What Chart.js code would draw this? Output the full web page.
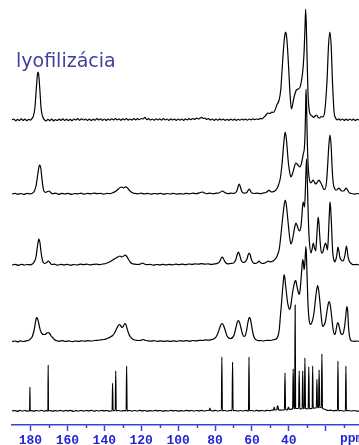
<!DOCTYPE html>
<html>
<head>
<meta charset="utf-8">
<script src="https://cdn.jsdelivr.net/npm/chart.js@4/dist/chart.umd.min.js"></script>
<style>
  html, body { margin: 0; padding: 0; background: #fff; }
  #wrap { width: 359px; height: 445px; }
</style>
</head>
<body>
<div id="wrap"><canvas id="nmr"></canvas></div>
<script>
// 13C CP/MAS spectra, [ppm, intensity] pairs, top trace first
const titleText = "lyofilizácia";

const spectrum1 = [[190,0],[189,1],[188,-0.8],[187,0.7],[186,-0.6],[185,1.1],[184,-0.4],[183,0.9],[182,-0.7],[181,0.6],[180,-0.2],[179.4,1],[178.6,3],[177.6,12],[176.8,32],[176.2,46],[175.9,48],[175.5,45],[174.9,30],[174.2,11],[173.3,3],[172.4,0.2],[171.5,-0.8],[170.5,0.6],[169.5,-0.6],[168.5,1],[167.5,-0.9],[166.5,0.4],[165.5,-0.5],[164.5,0.9],[163.5,-0.3],[162.5,1.2],[161.5,-0.5],[160.5,0.8],[159.5,-0.6],[158.5,0.7],[157.5,-0.7],[156.5,1],[155.5,0],[154.5,1.3],[153.5,-0.2],[152.3,1.2],[151.2,0],[150.2,1],[149.2,-0.4],[148,0.9],[147,-0.5],[146,0.8],[145,-0.2],[144,1.4],[143,0.1],[142,1.1],[141,-0.3],[140,1],[139,-0.4],[138,0.9],[137,-0.1],[136,1.2],[135,0],[134,1.3],[133,0.1],[132,1.1],[131,-0.2],[130,1.2],[129,0.2],[128,1.3],[127,-0.1],[126,1],[125,0],[124,1.4],[123,0.2],[122,1.3],[121,0.3],[120,1.5],[119,1],[118,2.6],[117,0.4],[116,1.3],[115,0],[114,1],[113,-0.2],[112,1.1],[111,0.1],[110,1.2],[109,-0.1],[108,1.3],[107,0.2],[106,1],[105,-0.3],[104,1.1],[103,0],[102,0.8],[101,-0.4],[100,1],[99,-0.1],[98,0.9],[97,-0.3],[96,1.2],[95,0.1],[94,1.3],[93,0.4],[92,1.5],[91,0.6],[90,1.8],[89,1],[88,2],[87.2,2.6],[86.4,1.5],[85.5,2],[84.5,0.5],[83.5,1.3],[82.5,0],[81.5,1],[80.5,-0.3],[79.5,0.9],[78.5,-0.2],[77.5,1.1],[76.5,0],[75.5,0.8],[74.5,-0.4],[73.5,0.7],[72.5,-0.3],[71.5,0.9],[70.5,-0.1],[69.5,0.8],[68.5,-0.4],[67.5,0.6],[66.5,-0.2],[65.5,1],[64.5,0.1],[63.5,0.9],[62.5,-0.2],[61.5,1],[60.5,0.2],[59.5,1.2],[58.5,0.3],[57.5,1],[56.5,0.5],[55.5,1.6],[54.5,1.2],[53.6,2.6],[52.4,5],[51.3,7],[50.2,6.5],[49.2,8],[48.4,7.5],[47.6,9.5],[46.5,15],[45.3,20],[44.4,30],[43.5,55],[42.7,76],[42.1,86],[41.8,88],[41.4,86],[40.8,74],[40,48],[39.3,24],[38.6,11],[37.3,22],[35.9,30],[34.2,32],[33.1,40],[32.3,52],[31.7,70],[31.2,96],[30.9,111],[30.5,92],[30.1,60],[29.6,25],[29,10],[28.2,5],[27.4,4],[26.6,2.5],[25.8,4],[25,5],[24.1,2.5],[23.3,2],[22.5,3.5],[21.7,3],[20.6,8],[19.3,40],[18.5,75],[17.8,88],[17.1,75],[16.3,35],[15.5,8],[14.7,2],[13.8,0.2],[13,1.2],[12,-0.2],[11,1],[10,-0.4],[9,0.9],[8,-0.3],[7,1],[6,-0.2],[5,0.8],[4,-0.5],[3,0.6],[2,0]];

const spectrum2 = [[190,0],[188.4,0.7],[186.8,-0.3],[185.2,0.5],[183.5,-0.4],[181.8,0.6],[180.2,0.1],[179,0.8],[178,2.5],[177,8],[176,20],[175.3,28],[174.9,29],[174.4,26],[173.7,14],[172.9,4],[172,1.5],[171,2.2],[170,3],[169,1.5],[168,0.3],[166.4,0.8],[164.7,-0.3],[163,0.6],[161.3,0],[159.6,0.7],[157.8,-0.4],[156,0.5],[154.3,0.1],[152.6,0.8],[150.8,-0.2],[149,0.6],[147.3,0.2],[145.5,0.9],[143.8,0.3],[142,0.7],[140.3,-0.1],[138.5,0.6],[137,0.4],[135.5,1.2],[134,2.5],[132.5,4.8],[131.4,6.5],[130.5,7],[129.5,6.2],[128.4,7.2],[127.4,6],[126.3,3.5],[125,1.5],[123.5,0.6],[121.8,0.2],[120,0.8],[118.3,0],[116.5,0.6],[114.8,-0.2],[113,0.5],[111.3,0.1],[109.5,0.7],[107.8,-0.3],[106,0.5],[104.3,0],[102.5,0.6],[100.8,-0.2],[99,0.4],[97.3,0],[95.5,0.7],[93.8,0.2],[92,0.9],[90.3,0.4],[88.5,1.1],[87,2],[86,1.3],[84.5,0.4],[82.8,0.9],[81,0.2],[79.2,0.8],[77.5,1.3],[76,3],[74.5,1.2],[73,0.4],[71.3,0.9],[69.6,0.6],[68.2,3],[67.3,8.5],[66.9,10],[66.4,8],[65.5,2.5],[64.3,0.8],[62.8,1.5],[62,3.8],[61.5,5],[61,3.8],[60.2,1.2],[58.8,0.5],[57.2,0.8],[55.5,0.3],[54,1],[52.5,1.5],[51.3,3],[50.8,4],[50.2,3],[49.2,2],[48.2,2.5],[47.6,3],[46.6,5],[45.6,9],[44.6,16],[43.7,30],[42.8,50],[42.3,59],[42,62],[41.6,59],[41.1,50],[40.3,32],[39.5,21],[38.9,17],[38.1,20],[37.2,26],[36.2,31],[35.1,29],[34,27],[33,32],[32.2,40],[31.6,46],[31.2,62],[30.9,88],[30.7,105],[30.4,88],[30.1,60],[29.6,30],[28.9,15],[28.2,11],[27.6,12],[26.9,14],[26.2,12],[25.6,10],[24.9,11],[24.2,13],[23.6,14],[23,12],[22.1,9],[21.2,5],[20.5,4.5],[19.6,12],[19,28],[18.3,50],[17.7,59],[17.1,48],[16.5,24],[15.9,10],[15.3,6],[14.7,4],[14.2,4],[13.5,5],[12.9,6],[12.2,4.5],[11.5,3],[10.4,3],[9.6,4.5],[8.9,6],[8.2,4],[7.6,2],[6.8,0.8],[6,0.5],[4.5,-0.2],[3.2,0.5],[2,0]];

const spectrum3 = [[190,0],[188.3,0.6],[186.6,-0.4],[185,0.7],[183.3,0],[181.6,0.5],[180.2,0.2],[179,1],[178,3],[177,8],[176.2,19],[175.6,25],[175.4,26],[174.9,23],[174.2,12],[173.4,4],[172.4,1.5],[171.2,2.5],[170.3,4],[169.5,2.5],[168.5,0.5],[167,0.8],[165.3,-0.2],[163.5,0.6],[161.8,0.1],[160,0.7],[158.3,-0.3],[156.5,0.5],[154.8,0],[153,0.8],[151.2,0.3],[149.5,0.9],[147.8,0.2],[146,0.6],[144.3,0.9],[142.5,0.4],[140.8,1],[139.2,1.5],[137.8,2.5],[136.3,4],[135,5.5],[133.6,7],[132.4,8.3],[131.5,9],[130.5,8],[129.6,8.8],[128.8,10],[128,9],[127,6],[126,3],[125,1.5],[123.5,0.8],[122,0.5],[120.5,0.9],[119.2,2],[118.3,1],[117,0.3],[115.2,0.7],[113.5,-0.1],[111.7,0.5],[110,0.1],[108.2,0.7],[106.5,0],[104.7,0.6],[103,0.2],[101.2,0.8],[99.5,0.3],[97.8,0.9],[96,0.4],[94.3,1],[92.5,0.6],[90.8,1.2],[89,0.8],[87.3,1.4],[85.5,0.8],[83.8,1.2],[82,0.6],[80.3,1.1],[78.8,1.6],[77.5,3.5],[76.6,7],[76.1,8],[75.5,6.5],[74.5,2.8],[73.2,1.2],[71.5,1.5],[70,2],[68.8,5],[67.9,11],[67.4,13],[66.8,11],[65.9,5],[64.9,2.5],[63.8,3],[62.7,6],[62,10.5],[61.5,12],[61,10.5],[60.2,5],[59.2,2],[58,1.5],[57,2.5],[56.2,4],[55.5,2.5],[54.3,1.5],[53,2],[52,3],[51,4],[50.2,3],[49.3,3.5],[48.2,4.5],[47.2,6.5],[46.6,8],[45.8,12],[45.2,16],[44.3,30],[43.2,50],[42.4,62],[42,65],[41.5,62],[40.8,50],[39.9,33],[39.3,24],[38.9,21],[38.2,24],[37.5,31],[36.7,39],[36.2,42],[35.6,40],[35.1,37],[34.3,34],[33.5,38],[32.9,50],[32.5,60],[32.2,63],[31.8,60],[31.5,58],[31,78],[30.7,96],[30.4,106],[30.1,92],[29.7,62],[29.3,38],[28.9,24],[28.1,12],[27.4,16],[26.8,22],[26.1,17],[25.5,14],[25.1,22],[24.5,40],[24.1,48],[23.7,42],[23.3,30],[22.8,18],[22.3,12],[21.8,12],[21.3,15],[20.6,20],[20.1,22],[19.6,19],[19.1,15],[18.7,24],[18.3,42],[17.9,58],[17.7,63],[17.4,58],[16.9,40],[16.5,22],[16.2,12],[15.6,5],[15.2,3],[14.6,5],[14,10],[13.4,18],[12.9,14],[12.4,8],[11.6,5],[11,4],[10.3,5],[9.7,9],[9.2,15],[8.8,19],[8.4,15],[7.9,8],[7.3,4],[6.5,2],[5.8,0.8],[4.6,0.3],[3.3,0.6],[2,0]];

const spectrum4 = [[190,0],[188.5,0.5],[187,-0.3],[185.4,0.6],[183.8,0],[182.2,0.7],[181,1.2],[180,2.5],[179,5],[178.2,10],[177.4,18],[176.9,23],[176.6,24],[176.2,23],[175.5,18],[174.6,11],[173.6,7.5],[172.8,7],[172.1,7],[171.2,8.3],[170.4,9],[169.6,8],[168.8,5.5],[168,4],[167,2],[165.8,0.8],[164.3,0.3],[162.6,0.8],[160.9,0],[159.2,0.6],[157.5,-0.2],[155.8,0.5],[154,0.1],[152.3,0.7],[150.6,0.3],[148.8,0.9],[147,0.5],[145.3,1],[143.6,1.2],[142,1.6],[140.5,2],[139.2,2.4],[137.8,3.5],[136.7,4.5],[135.5,6],[134.6,8],[133.8,11],[133,14],[132.3,16.3],[131.8,17],[131.2,16],[130.4,14],[129.6,15.5],[128.9,18],[128.3,17],[127.5,12],[126.8,8],[126,5],[125,3],[124,1.8],[122.5,1.2],[121,1],[119.8,1.4],[118.9,2],[118,1.3],[116.5,0.7],[114.8,0.3],[113,0.8],[111.3,0.2],[109.5,0.7],[107.7,0],[106,0.6],[104.2,0.1],[102.5,0.7],[100.7,0.2],[99,0.8],[97.2,0.3],[95.5,0.8],[93.7,0.4],[92,1],[90.2,0.6],[88.5,1.2],[86.8,1],[85,1.6],[83.3,1.3],[81.7,2],[80.3,3],[79.3,5],[78.3,9],[77.4,14],[76.6,17.5],[76.1,18],[75.5,16.5],[74.6,12],[73.6,6],[72.6,3.5],[71.6,3],[70.5,4],[69.6,7],[68.8,13],[68,19],[67.4,21],[66.8,19.5],[66,14],[65.2,8],[64.4,5],[63.6,6],[62.9,11],[62.2,19],[61.6,23.5],[61.3,24],[60.8,22],[60.1,15],[59.3,7],[58.5,3],[57.5,1.5],[56.4,0.8],[55.2,1],[54,0.5],[52.7,1],[51.5,1.2],[50.2,1],[49,1.5],[47.8,2],[46.6,3],[45.8,6],[45.2,12],[44.6,25],[44,38],[43.5,50],[43,60],[42.6,67],[42.2,64],[41.7,55],[41.1,45],[40.6,38],[40.1,34],[39.6,32],[39.1,34],[38.5,42],[37.9,50],[37.4,55],[36.9,59],[36.5,61],[36.1,60],[35.6,55],[35,50],[34.5,47],[34,50],[33.5,60],[33,72],[32.5,82],[32.1,79],[31.8,72],[31.5,74],[31.2,82],[30.8,95],[30.5,88],[30.2,70],[29.7,40],[29.3,27],[28.9,20],[28.3,17],[27.8,18],[27.2,21],[26.7,25],[26.1,33],[25.6,42],[25,51],[24.4,56],[23.9,52],[23.2,40],[22.5,26],[21.7,15],[21,16],[20.2,20],[19.7,26],[19.2,32],[18.6,38],[18.1,40],[17.6,37],[16.8,25],[16.1,13],[15.4,7],[14.8,8],[14.2,14],[13.6,19],[13,17],[12.4,12],[11.8,8],[11.2,7],[10.6,8],[9.8,15],[9.2,25],[8.6,35],[8.1,30],[7.7,15],[7.2,6],[6.7,2],[5.8,0.5],[4.5,0.2],[3.2,0.5],[2,0]];

const spectrum5 = [[190,0],[188.6,0.5],[187.2,-0.3],[185.8,0.6],[184.4,0],[183,0.5],[181.6,-0.2],[180.7,0.3],[180.45,0],[180.3,24],[180.15,0],[179.5,0.4],[178.2,-0.2],[176.8,0.5],[175.4,0],[174,0.6],[172.6,-0.1],[171.2,0.4],[170.55,0],[170.4,46],[170.25,0],[169.4,0.5],[168,-0.2],[166.6,0.4],[165.2,0],[163.8,0.6],[162.4,-0.2],[161,0.5],[159.6,0.1],[158.2,0.6],[156.8,-0.3],[155.4,0.4],[154,0],[152.6,0.6],[151.2,-0.1],[149.8,0.5],[148.4,0.1],[147,0.6],[145.6,-0.2],[144.2,0.5],[142.8,0],[141.4,0.6],[140,0.1],[138.6,0.5],[137.2,-0.2],[135.75,0.2],[135.5,28],[135.25,0.3],[134.05,0.3],[133.8,40],[133.55,0.3],[132.3,0.5],[131,0],[129.6,0.4],[128.15,0.2],[127.9,45],[127.65,0.2],[126.4,0.5],[125,-0.1],[123.6,0.5],[122.2,0],[120.8,0.6],[119.4,0.1],[118,0.5],[116.6,-0.2],[115.2,0.4],[113.8,0],[112.4,0.6],[111,0.1],[109.6,0.5],[108.2,-0.2],[106.8,0.4],[105.4,0],[104,0.6],[102.6,0.1],[101.2,0.5],[99.8,-0.2],[98.4,0.4],[97,0],[95.6,0.6],[94.2,0.1],[92.8,0.5],[91.4,-0.1],[90,0.5],[88.6,0.1],[87.2,0.6],[85.8,0],[84.4,0.5],[83.2,0.5],[82.8,3],[82.4,0.5],[81.2,0.2],[79.8,0.6],[78.4,0],[77,0.5],[76.55,0.3],[76.3,54],[76.05,0.3],[74.8,0.5],[73.4,0],[72,0.6],[70.75,0.3],[70.5,49],[70.25,0.3],[69,0.5],[67.6,-0.1],[66.2,0.5],[64.8,0],[63.4,0.6],[62,0.2],[61.85,0.3],[61.6,54],[61.35,0.3],[60.2,0.5],[58.8,0],[57.4,0.6],[56,0.1],[54.6,0.5],[53.2,0],[51.8,0.7],[50.4,0.3],[49.2,0.8],[48.3,1],[48,4],[47.6,1],[46.6,1.2],[46.1,5.5],[45.6,1.3],[44.6,0.8],[43.6,1],[42.4,1.2],[42.1,38],[41.8,1.3],[40.8,1.2],[40.2,4],[39.8,1.5],[38.8,1.8],[37.95,2.2],[37.65,42],[37.35,2.5],[36.85,2.7],[36.6,106],[36.35,2.7],[35.5,2.5],[34.7,2.5],[34.4,40],[34.1,2.4],[33.3,2.2],[32.8,2.4],[32.5,40],[32.2,2.4],[31.6,2.5],[31.3,53],[31,2.5],[30.1,2.2],[29.5,2.5],[29.2,44],[28.9,2.6],[28,2.4],[27.35,2.7],[27.1,45],[26.85,2.8],[26,3],[25.1,3.2],[24.8,32],[24.5,3.3],[23.9,3.5],[23.6,41],[23.3,3.6],[22.4,3.5],[22.1,57],[21.8,3],[21,2],[19.8,1],[18.5,0.5],[17.2,0.8],[15.8,0.2],[14.6,0.6],[13.65,0.3],[13.4,50],[13.15,0.3],[12,0.5],[10.6,0],[9.35,0.3],[9.1,45],[8.85,0.3],[7.6,0.5],[6.2,0],[4.8,0.5],[3.4,-0.1],[2,0]];

const spectra = [spectrum1, spectrum2, spectrum3, spectrum4, spectrum5];
const axisLabels = [180, 160, 140, 120, 100, 80, 60, 40];
const majorTicks = [180, 160, 140, 120, 100, 80, 60, 40, 20];
const minorTicks = [170, 150, 130, 110, 90, 70, 50, 30, 10];

// vertical stacking of the traces (baseline height, 1 unit = 1 px)
const lift = [305, 231, 160, 83.5, 14];

const axisBlue = "#3346dc";
const labelBlue = "#2424d6";
const tickFont = { family: "Liberation Mono", size: 13, weight: "bold", lineHeight: 0.6 };

const extras = {
    id: "extras",
    afterDraw(chart) {
        const ctx = chart.ctx;
        const x = chart.scales.x;
        const bottom = chart.chartArea.bottom;
        ctx.save();
        // short minor ticks between the labelled ones
        ctx.strokeStyle = axisBlue;
        ctx.lineWidth = 1.5;
        minorTicks.forEach(v => {
            const px = Math.round(x.getPixelForValue(v)) + 0.5;
            ctx.beginPath();
            ctx.moveTo(px, bottom);
            ctx.lineTo(px, bottom + 3);
            ctx.stroke();
        });
        // unit at the right end of the axis
        ctx.fillStyle = labelBlue;
        ctx.font = "bold 13px 'Liberation Mono'";
        ctx.textBaseline = "alphabetic";
        ctx.textAlign = "left";
        ctx.fillText("ppm", x.getPixelForValue(12.3), 442);
        // sample label
        ctx.fillStyle = "#3f3f9d";
        ctx.font = "19px 'DejaVu Sans'";
        ctx.fillText(titleText, 16, 66.5);
        ctx.restore();
    }
};

const ctx = document.getElementById("nmr").getContext("2d");
const chart = new Chart(ctx, {
    type: "line",
    data: {
        datasets: spectra.map((s, i) => ({
            data: s.map(p => ({ x: p[0], y: p[1] + lift[i] })),
            borderColor: "#000",
            borderWidth: 1.2,
            pointRadius: 0,
            fill: false,
            cubicInterpolationMode: "monotone",
            clip: false
        }))
    },
    options: {
        responsive: true,
        maintainAspectRatio: false,
        devicePixelRatio: 1,
        animation: false,
        events: [],
        layout: { padding: { left: 12, right: 0, top: 0, bottom: 0 } },
        scales: {
            x: {
                type: "linear",
                reverse: true,
                min: 2,
                max: 190,
                afterBuildTicks: axis => {
                    axis.ticks = majorTicks.map(v => ({ value: v }));
                },
                // fixed band height so the plot area ends at y = 425
                afterFit: axis => {
                    axis.height = 20;
                },
                ticks: {
                    autoSkip: false,
                    maxRotation: 0,
                    padding: 6,
                    color: labelBlue,
                    font: tickFont,
                    callback: v => axisLabels.includes(v) ? String(v) : ""
                },
                grid: {
                    drawOnChartArea: false,
                    drawTicks: true,
                    tickLength: 6,
                    tickWidth: 1.5,
                    tickColor: axisBlue
                },
                border: { color: axisBlue, width: 1.5 }
            },
            y: {
                display: false,
                min: 0,
                max: 425
            }
        },
        plugins: {
            legend: { display: false },
            tooltip: { enabled: false }
        }
    },
    plugins: [extras]
});
</script>
</body>
</html>
